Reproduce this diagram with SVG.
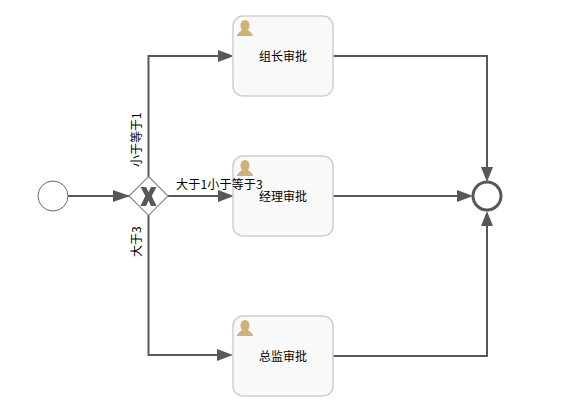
<svg xmlns="http://www.w3.org/2000/svg" width="574" height="418" viewBox="0 0 574 418">
<style>
.conn{fill:none;stroke:#585858;stroke-width:2}
.head{fill:#585858;stroke:none}
.task{fill:#f9f9f9;stroke:#cfcfcf;stroke-width:1.5}
.user{fill:#cfb27a}
text{font-family:"Noto Sans CJK SC","Liberation Sans",sans-serif;font-size:12px;fill:#000}
.c{text-anchor:middle}
</style>
<defs>
<g id="u"><ellipse cx="10" cy="8.500" rx="4.500" ry="5.500" class="user"/><path class="user" d="M2 19 C2.500 15.500 6 15 7.500 12 L12.500 12 C14 15 17.500 15.500 18 19 Z"/></g>
</defs>
<rect width="574" height="418" fill="#fff"/>
<g id="connectors">
<path class="conn" d="M68 196 L130 196"/><path class="head" d="M130 196 L113 190 L113 202 Z"/>
<path class="conn" d="M148.500 177 L148.500 56 L218 56"/><path class="head" d="M234 56 L218 50 L218 62 Z"/>
<path class="conn" d="M168 196 L218 196"/><path class="head" d="M234 196 L218 190 L218 202 Z"/>
<path class="conn" d="M148.500 215 L148.500 355 L218 355"/><path class="head" d="M233 355 L217 349 L217 361 Z"/>
<path class="conn" d="M333 56 L487 56 L487 170"/><path class="head" d="M487 182 L481 167 L493 167 Z"/>
<path class="conn" d="M333 196 L458 196"/><path class="head" d="M473 196 L457 190 L457 202 Z"/>
<path class="conn" d="M333 356 L487 356 L487 224"/><path class="head" d="M487 211 L481 226 L493 226 Z"/>
</g>
<g id="start"><circle cx="53" cy="196" r="15" fill="#fff" stroke="#666" stroke-width="1"/></g>
<g id="gateway"><path d="M148.500 176.500 L168 196 L148.500 215.500 L129 196 Z" fill="#fff" stroke="#8a8a8a" stroke-width="1.200"/>
<path d="M140.500 187 L146 187 L148.500 192 L151 187 L156.500 187 L151.700 196 L156.500 206 L151 206 L148.500 200.500 L146 206 L140.500 206 L145.300 196 Z" fill="#585858"/></g>
<g id="task1"><rect class="task" x="233" y="16" width="100" height="80" rx="10"/><use href="#u" x="235" y="17"/><text class="c" x="283" y="61">组长审批</text></g>
<g id="task2"><rect class="task" x="233" y="156" width="100" height="80" rx="10"/><use href="#u" x="235" y="157"/><text class="c" x="283" y="201">经理审批</text></g>
<g id="task3"><rect class="task" x="233" y="316" width="100" height="80" rx="10"/><use href="#u" x="235" y="317"/><text class="c" x="283" y="361">总监审批</text></g>
<g id="end"><circle cx="487" cy="196" r="14" fill="#fff" stroke="#585858" stroke-width="3"/></g>
<g id="labels">
<text x="176" y="188.500" letter-spacing=".2">大于1小于等于3</text>
<text transform="translate(140.500 167) rotate(-90)">小于等于1</text>
<text transform="translate(140.500 257) rotate(-90)">大于3</text>
</g>
</svg>
